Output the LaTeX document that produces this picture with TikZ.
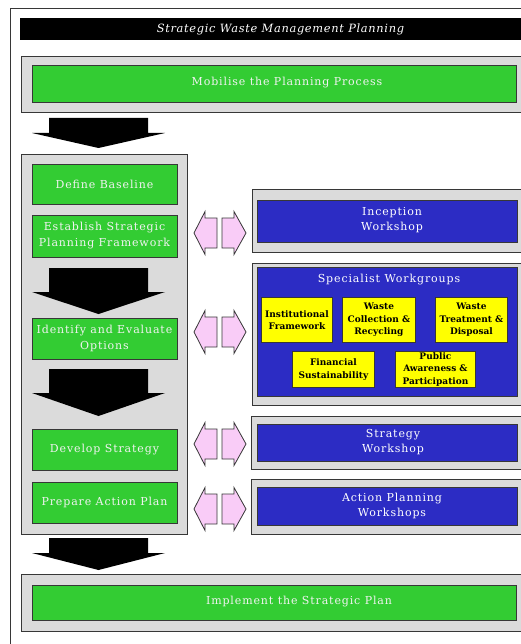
\documentclass[tikz,border=0pt]{standalone}
\usepackage{fontspec}
\setmainfont{DejaVu Serif}
\newfontfamily\boxfont[LetterSpace=8]{DejaVu Serif}
\newfontfamily\titlefont[LetterSpace=6]{DejaVu Serif}
\definecolor{gbox}{RGB}{51,204,51}
\definecolor{bbox}{RGB}{44,44,196}
\definecolor{ybox}{RGB}{255,255,0}
\definecolor{panel}{RGB}{219,219,219}
\definecolor{pinkf}{RGB}{249,204,247}
\definecolor{edge}{RGB}{55,55,55}
\definecolor{gtext}{RGB}{242,242,242}
\newcommand\blockarrow[3]{\fill[black] (49,#1) -- (148,#1) -- (148,#2) -- (165,#2) -- (98.5,#3) -- (32,#2) -- (49,#2) -- cycle;}
\begin{document}
\begin{tikzpicture}[x=1pt,y=-1pt,
  panelbox/.style={draw=edge, fill=panel, line width=0.9pt, inner sep=0},
  greenbox/.style={draw=edge, fill=gbox, line width=0.9pt, inner sep=0, align=center, text=gtext, font=\boxfont\fontsize{11}{16}\selectfont},
  bluebox/.style={draw=edge, fill=bbox, line width=0.9pt, inner sep=0},
  yelbox/.style={draw=edge, fill=ybox, line width=0.9pt, inner sep=0, align=center, text=black, font=\bfseries\fontsize{9}{12.5}\selectfont},
  gtxt/.style={inner sep=0, align=center, text=gtext, font=\boxfont\fontsize{11}{16}\selectfont},
  btxt/.style={inner sep=0, align=center, text=white, font=\boxfont\fontsize{11}{15}\selectfont},
  pinkarrow/.style={draw=edge, fill=pinkf, line width=0.8pt, line join=miter},
  pinkpair/.pic={
    \draw[pinkarrow] (194,0) -- (205,-21.5) -- (205,-15) -- (217,-15) -- (217,15) -- (205,15) -- (205,21.5) -- cycle;
    \draw[pinkarrow] (246,0) -- (234,-21.5) -- (234,-15) -- (222,-15) -- (222,15) -- (234,15) -- (234,21.5) -- cycle;
  }]
\useasboundingbox (0,0) rectangle (521,644);
\fill[white] (0,0) rectangle (521,644);
\clip (0,0) rectangle (521,644);
% outer frame
\draw[edge, line width=0.9pt] (10,660) -- (10,8) -- (540,8);
% title bar
\node[fill=black, minimum width=520, minimum height=22, inner sep=0, anchor=north west] (titlebar) at (20,18) {};
\node[text=white, inner sep=0, font=\titlefont\itshape\fontsize{11.4}{13}\selectfont] (title) at (280.5,29) {Strategic Waste Management Planning};
% mobilise
\node[panelbox, minimum width=520, minimum height=56, anchor=north west] (pmob) at (21,56) {};
\node[greenbox, minimum width=484, minimum height=37] (mob) at (274,83.5) {};
\node[gtxt] (mobt) at (287,83) {Mobilise the Planning Process};
\blockarrow{118}{133}{148}
% left column
\node[panelbox, minimum width=166, minimum height=380, anchor=north west] (pleft) at (21,154) {};
\node[greenbox, minimum width=145, minimum height=40] (define) at (104.5,184) {Define Baseline};
\node[greenbox, minimum width=145, minimum height=42] (establish) at (104.5,236) {Establish Strategic\\Planning Framework};
\blockarrow{268}{292}{314}
\node[greenbox, minimum width=145, minimum height=41] (identify) at (104.5,338.5) {Identify and Evaluate\\Options};
\blockarrow{369}{393}{416}
\node[greenbox, minimum width=145, minimum height=41] (develop) at (104.5,449.5) {Develop Strategy};
\node[greenbox, minimum width=145, minimum height=41] (prepare) at (104.5,502.5) {Prepare Action Plan};
\blockarrow{538}{553}{570}
% implement
\node[panelbox, minimum width=520, minimum height=57, anchor=north west] (pimp) at (21,574) {};
\node[greenbox, minimum width=484, minimum height=35] (impl) at (274,602.5) {};
\node[gtxt] (implt) at (299,602) {Implement the Strategic Plan};
% right panels
\node[panelbox, minimum width=290, minimum height=63, anchor=north west] (pincep) at (252,189) {};
\node[bluebox, minimum width=260, minimum height=42, anchor=north west] (incep) at (257,200) {};
\node[btxt] (inceptt) at (392,220) {Inception\\Workshop};
\node[panelbox, minimum width=290, minimum height=142, anchor=north west] (pspec) at (252,263) {};
\node[bluebox, minimum width=260, minimum height=129, anchor=north west] (spec) at (257,267) {};
\node[btxt] (spect) at (389,280) {Specialist Workgroups};
\node[yelbox, minimum width=71, minimum height=45, anchor=north west] (inst) at (261,297) {Institutional\\Framework};
\node[yelbox, minimum width=73, minimum height=45, anchor=north west] (coll) at (342,297) {Waste\\Collection \&\\Recycling};
\node[yelbox, minimum width=72, minimum height=45, anchor=north west] (treat) at (435,297) {Waste\\Treatment \&\\Disposal};
\node[yelbox, minimum width=82, minimum height=36, anchor=north west] (fin) at (292,351) {Financial\\Sustainability};
\node[yelbox, minimum width=80, minimum height=36, anchor=north west] (pub) at (395,351) {Public\\Awareness \&\\Participation};
\node[panelbox, minimum width=290, minimum height=53, anchor=north west] (pstrat) at (251,416) {};
\node[bluebox, minimum width=260, minimum height=37, anchor=north west] (strat) at (257,424) {};
\node[btxt] (stratt) at (393,442.5) {Strategy\\Workshop};
\node[panelbox, minimum width=290, minimum height=55, anchor=north west] (pact) at (251,479) {};
\node[bluebox, minimum width=260, minimum height=38, anchor=north west] (act) at (257,487) {};
\node[btxt] (actt) at (392,506) {Action Planning\\Workshops};
% pink double arrows
\pic at (0,233) {pinkpair};
\pic at (0,332) {pinkpair};
\pic at (0,444) {pinkpair};
\pic at (0,509) {pinkpair};
\end{tikzpicture}
\end{document}
